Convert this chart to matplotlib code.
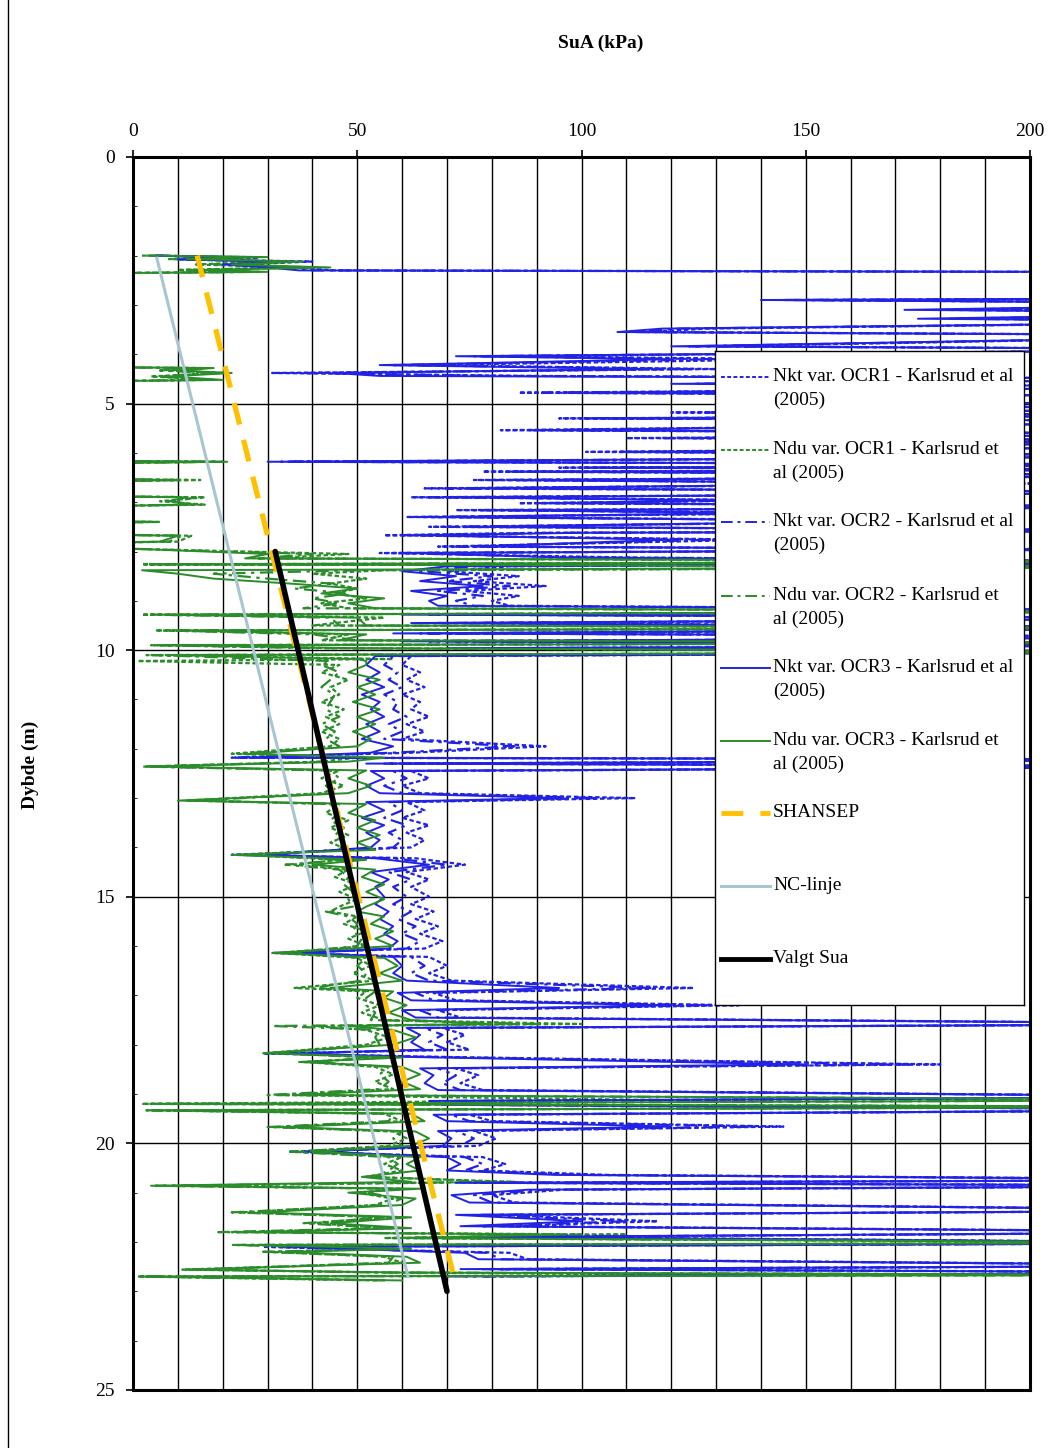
import matplotlib.pyplot as plt
import numpy as np
from matplotlib.lines import Line2D
from matplotlib.ticker import MultipleLocator

plt.rcParams['font.family'] = ['Liberation Serif', 'DejaVu Serif']

# Nkt-baserte profiler (blå), felles dybdeliste. 260 = utenfor skala (>200)
depth_nkt = [
    2.00, 2.04, 2.08, 2.12, 2.18, 2.24, 2.30, 2.34, 2.86, 2.90,
    2.97, 3.10, 3.16, 3.28, 3.34, 3.48, 3.55, 3.62, 3.84, 3.90,
    4.04, 4.10, 4.22, 4.30, 4.38, 4.44, 4.50, 4.60, 4.66, 4.78,
    4.86, 5.05, 5.12, 5.18, 5.24, 5.30, 5.36, 5.54, 5.62, 5.70, 5.75, 5.80, 5.86, 5.98,
    6.06, 6.18, 6.24, 6.30, 6.34, 6.38, 6.46, 6.55, 6.62, 6.72, 6.80, 6.90,
    6.96, 7.02, 7.10, 7.16, 7.22, 7.30, 7.38, 7.50, 7.58, 7.62, 7.67, 7.76, 7.90,
    7.96, 8.03, 8.12, 8.22, 8.30, 8.40, 8.50, 8.60, 8.70, 8.80,
    8.90, 9.00, 9.10, 9.20, 9.28, 9.35, 9.45, 9.55, 9.66, 9.73,
    9.82, 9.90, 9.96, 10.04, 10.12, 10.30, 10.45, 10.60, 10.75, 10.90,
    11.05, 11.20, 11.35, 11.50, 11.65, 11.80, 11.95, 12.08, 12.18, 12.22,
    12.30, 12.36, 12.45, 12.60, 12.75, 12.90, 13.00, 13.08, 13.25, 13.40,
    13.55, 13.70, 13.85, 14.00, 14.15, 14.22, 14.35, 14.50, 14.65, 14.80,
    15.00, 15.15, 15.30, 15.45, 15.60, 15.75, 15.90, 16.05, 16.14, 16.22,
    16.40, 16.55, 16.70, 16.85, 16.95, 17.10, 17.20, 17.30, 17.45, 17.58,
    17.66, 17.80, 17.95, 18.10, 18.18, 18.25, 18.40, 18.48, 18.62, 18.78,
    18.92, 19.06, 19.14, 19.22, 19.32, 19.42, 19.55, 19.66, 19.75, 19.90,
    20.05, 20.17, 20.28, 20.42, 20.55, 20.64, 20.74, 20.80, 20.86, 20.94,
    21.05, 21.20, 21.36, 21.45, 21.58, 21.68, 21.80, 21.90, 22.02, 22.10,
    22.22, 22.35, 22.48, 22.55, 22.62, 22.70,
]
nkt_ocr1 = [
    6, 28, 14, 40, 24, 36, 45, 260, 260, 150,
    260, 185, 260, 190, 260, 128, 115, 260, 130, 260,
    80, 150, 64, 130, 31, 90, 260, 130, 260, 86,
    260, 175, 260, 120, 260, 95, 260, 82, 260, 110, 260, 160, 260, 101,
    260, 36, 260, 95, 260, 78, 260, 76, 200, 65, 260, 62,
    150, 86, 260, 72, 160, 61, 190, 66, 260, 90, 56, 140, 68,
    230, 55, 110, 260, 84, 70, 86, 76, 92, 74,
    86, 80, 84, 260, 72, 260, 74, 260, 70, 260,
    72, 260, 80, 260, 62, 60, 64, 61, 65, 60,
    64, 62, 66, 61, 65, 60, 92, 62, 22, 260,
    60, 260, 62, 66, 60, 64, 112, 61, 65, 60,
    66, 61, 65, 62, 22, 63, 74, 61, 66, 62,
    66, 62, 67, 63, 68, 64, 69, 65, 31, 66,
    70, 66, 71, 125, 67, 72, 135, 68, 73, 260,
    69, 74, 70, 75, 29, 71, 180, 72, 77, 73,
    78, 260, 74, 79, 260, 75, 80, 145, 76, 81,
    77, 35, 78, 83, 78, 106, 260, 80, 260, 96,
    80, 85, 260, 81, 117, 82, 260, 84, 260, 29,
    84, 88, 260, 82, 260, 78,
]
nkt_ocr2 = [
    5, 24, 12, 36, 22, 33, 40, 260, 260, 145,
    260, 180, 260, 182, 260, 122, 112, 260, 124, 260,
    76, 130, 58, 125, 38, 82, 260, 125, 260, 92,
    260, 185, 260, 128, 260, 100, 260, 88, 260, 118, 260, 150, 260, 108,
    260, 33, 260, 100, 260, 84, 260, 80, 190, 70, 260, 66,
    140, 90, 260, 76, 150, 64, 180, 70, 260, 96, 60, 130, 72,
    220, 58, 100, 260, 76, 64, 80, 70, 84, 68,
    78, 72, 76, 260, 66, 260, 68, 260, 64, 260,
    66, 260, 82, 260, 58, 56, 59, 57, 60, 56,
    59, 58, 61, 57, 60, 56, 85, 58, 24, 260,
    56, 260, 58, 61, 56, 60, 104, 57, 60, 56,
    61, 57, 60, 58, 26, 58, 70, 57, 62, 58,
    61, 58, 62, 59, 63, 60, 64, 61, 35, 62,
    65, 62, 66, 116, 63, 67, 128, 64, 68, 260,
    65, 69, 66, 70, 32, 67, 173, 68, 72, 69,
    73, 260, 70, 74, 260, 71, 75, 139, 72, 76,
    73, 38, 74, 78, 74, 100, 260, 76, 260, 92,
    76, 80, 260, 77, 110, 78, 260, 79, 260, 32,
    79, 82, 260, 78, 260, 74,
]
nkt_ocr3 = [
    5, 22, 10, 33, 20, 30, 37, 260, 260, 140,
    260, 172, 260, 175, 260, 118, 108, 260, 120, 260,
    72, 120, 55, 115, 45, 55, 260, 120, 260, 98,
    260, 170, 260, 135, 260, 104, 260, 92, 260, 125, 260, 140, 260, 112,
    260, 30, 260, 106, 260, 88, 260, 84, 180, 74, 260, 70,
    130, 95, 260, 80, 140, 68, 170, 74, 260, 100, 64, 120, 76,
    210, 62, 95, 260, 70, 60, 72, 64, 78, 62,
    70, 66, 68, 260, 60, 260, 62, 260, 58, 260,
    60, 260, 70, 260, 54, 52, 55, 52, 56, 51,
    55, 53, 56, 52, 55, 51, 58, 53, 26, 260,
    52, 260, 53, 56, 52, 55, 96, 52, 56, 51,
    56, 52, 55, 53, 30, 54, 66, 53, 57, 54,
    56, 54, 57, 55, 58, 56, 59, 57, 38, 58,
    60, 58, 61, 95, 59, 62, 120, 60, 63, 260,
    61, 64, 62, 65, 36, 63, 150, 64, 67, 65,
    68, 260, 66, 69, 260, 67, 70, 120, 68, 71,
    69, 42, 70, 73, 70, 94, 260, 72, 260, 88,
    71, 75, 260, 72, 100, 73, 260, 74, 260, 36,
    74, 77, 260, 73, 260, 70,
]

# NDu-baserte profiler (grønne), felles dybdeliste. -40 = utenfor skala (<0)
depth_ndu = [
    2.00, 2.03, 2.07, 2.12, 2.18, 2.24, 2.29, 2.33, 2.38, 4.24,
    4.28, 4.33, 4.38, 4.45, 4.52, 4.58, 6.14, 6.18, 6.24, 6.50,
    6.55, 6.62, 6.85, 6.90, 6.98, 7.05, 7.12, 7.36, 7.40, 7.46,
    7.62, 7.68, 7.80, 7.86, 7.95, 8.05, 8.14, 8.20, 8.26, 8.31,
    8.38, 8.45, 8.55, 8.65, 8.75, 8.85, 8.95, 9.05, 9.15, 9.22,
    9.28, 9.34, 9.50, 9.55, 9.60, 9.68, 9.80, 9.85, 9.90, 9.96,
    10.04, 10.10, 10.18, 10.22, 10.30, 10.45, 10.60, 10.75, 10.90, 11.05,
    11.20, 11.35, 11.50, 11.65, 11.80, 11.95, 12.10, 12.18, 12.26, 12.36,
    12.44, 12.60, 12.75, 12.90, 13.05, 13.12, 13.30, 13.45, 13.60, 13.75,
    13.90, 14.05, 14.15, 14.25, 14.35, 14.45, 14.60, 14.75, 14.90, 15.05,
    15.20, 15.30, 15.40, 15.55, 15.70, 15.85, 16.00, 16.14, 16.24, 16.40,
    16.55, 16.70, 16.85, 16.92, 17.05, 17.20, 17.35, 17.50, 17.58, 17.62,
    17.70, 17.85, 18.00, 18.17, 18.26, 18.35, 18.45, 18.60, 18.75, 18.90,
    19.02, 19.12, 19.20, 19.26, 19.33, 19.40, 19.55, 19.67, 19.76, 19.90,
    20.05, 20.17, 20.28, 20.42, 20.55, 20.68, 20.78, 20.86, 20.92, 21.00,
    21.12, 21.25, 21.40, 21.50, 21.62, 21.72, 21.80, 21.85, 21.92, 22.02,
    22.06, 22.14, 22.20, 22.30, 22.42, 22.56, 22.62, 22.67, 22.70, 22.78,
]
ndu_ocr1 = [
    2, 26, 8, 30, 14, 36, 10, 26, -40, -40,
    16, 8, 20, 4, 18, -40, -40, 18, -40, -40,
    15, -40, -40, 16, 6, 16, -40, -40, 6, -40,
    -40, 13, 10, -40, 2, 48, 30, 260, 2, 260,
    56, 40, 52, 44, 50, 45, 52, 42, 48, 260,
    2, 56, 40, 260, 5, 48, 42, 260, 4, 46,
    260, 3, 58, 1, 46, 42, 48, 44, 46, 42,
    47, 43, 46, 42, 46, 44, 22, 50, 42, 3,
    46, 42, 47, 42, 12, 46, 43, 48, 44, 48,
    44, 48, 24, 46, 36, 48, 45, 50, 46, 50,
    46, 44, 50, 47, 52, 48, 52, 32, 50, 53,
    49, 54, 36, 52, 50, 55, 51, 56, 100, 40,
    52, 57, 52, 30, 56, 38, 54, 58, 54, 58,
    32, 117, 2, 260, 3, 56, 60, 32, 58, 61,
    57, 36, 60, 56, 60, 52, 85, 10, 60, 50,
    58, 54, 24, 56, 40, 58, 22, 110, 56, 260,
    24, 58, 30, 56, 60, 11, 58, 170, 1, 55,
]
ndu_ocr2 = [
    3, 24, 10, 34, 18, 40, 12, 28, -40, -40,
    14, 6, 17, 6, 16, -40, -40, 20, -40, -40,
    12, -40, -40, 14, 10, 12, -40, -40, 5, -40,
    -40, 11, 8, -40, 2, 40, 28, 260, 3, 260,
    50, 18, 30, 44, 36, 48, 40, 46, 38, 260,
    4, 44, 46, 260, 8, 40, 50, 260, 6, 40,
    260, 5, 30, 44, 42, 46, 44, 42, 45, 44,
    43, 46, 42, 45, 43, 46, 24, 46, 44, 2,
    44, 46, 43, 45, 14, 44, 46, 44, 47, 45,
    47, 46, 26, 48, 34, 46, 48, 47, 49, 48,
    49, 43, 48, 50, 49, 51, 50, 34, 52, 50,
    52, 51, 40, 54, 52, 52, 54, 53, 90, 31,
    55, 54, 55, 32, 53, 40, 57, 55, 57, 55,
    30, 260, 4, 260, 5, 58, 57, 30, 60, 58,
    60, 35, 57, 59, 57, 54, 80, 5, 58, 52,
    60, 56, 22, 58, 38, 56, 19, 100, 58, 260,
    22, 56, 29, 58, 57, 14, 56, 260, 2, 57,
]
ndu_ocr3 = [
    4, 30, 12, 38, 22, 44, 16, 30, -40, -40,
    18, 10, 22, 8, 20, -40, -40, 21, -40, -40,
    10, -40, -40, 12, 8, 14, -40, -40, 4, -40,
    -40, 10, 6, -40, 2, 30, 25, 260, 4, 260,
    2, 10, 18, 35, 50, 42, 56, 48, 54, 260,
    6, 50, 52, 260, 10, 52, 46, 260, 8, 50,
    260, 8, 50, 52, 52, 48, 55, 50, 54, 49,
    55, 50, 54, 49, 53, 50, 26, 56, 48, 4,
    52, 48, 53, 48, 10, 52, 48, 54, 50, 55,
    50, 54, 22, 52, 40, 54, 51, 56, 52, 56,
    52, 50, 56, 53, 58, 54, 58, 31, 56, 59,
    55, 60, 44, 58, 56, 61, 57, 62, 80, 48,
    58, 63, 58, 29, 60, 37, 60, 64, 60, 64,
    36, 260, 6, 260, 3, 62, 65, 34, 63, 66,
    62, 40, 64, 61, 64, 51, 62, 4, 64, 48,
    63, 60, 28, 62, 44, 62, 26, 95, 60, 260,
    28, 62, 34, 61, 64, 12, 60, 260, 2, 60,
]

# Rette linjer
shansep_depth = [2.0, 22.8]
shansep_su = [14.3, 71.8]
nc_depth = [2.05, 22.7]
nc_su = [5.3, 61.3]
valgt_depth = [8.0, 23.0]
valgt_su = [31.7, 70.0]

BLUE = '#2222e6'
GREEN = '#2a8c2a'
ORANGE = '#ffc000'
NCBLUE = '#a8c6cf'

dotted = (0, (2.0, 1.2))
dashdot = (0, (6, 2.5, 1.5, 2.5))

fig = plt.figure(figsize=(10.5, 14.48), dpi=100)
ax = fig.add_axes([0.1267, 0.0401, 0.8543, 0.8515])

ax.plot(nkt_ocr1, depth_nkt, color=BLUE, lw=1.6, ls=dotted, zorder=2)
ax.plot(ndu_ocr1, depth_ndu, color=GREEN, lw=1.6, ls=dotted, zorder=2)
ax.plot(nkt_ocr2, depth_nkt, color=BLUE, lw=1.6, ls=dashdot, zorder=2)
ax.plot(ndu_ocr2, depth_ndu, color=GREEN, lw=1.6, ls=dashdot, zorder=2)
ax.plot(nkt_ocr3, depth_nkt, color=BLUE, lw=1.4, zorder=2)
ax.plot(ndu_ocr3, depth_ndu, color=GREEN, lw=1.4, zorder=2)
ax.plot(nc_su, nc_depth, color=NCBLUE, lw=2.2, zorder=3)
ax.plot(shansep_su, shansep_depth, color=ORANGE, lw=3.8, ls=(0, (4.2, 3)), zorder=4)
ax.plot(valgt_su, valgt_depth, color='black', lw=4, solid_capstyle='round', zorder=5)

ax.set_xlim(0, 200)
ax.set_ylim(25, 0)
ax.xaxis.tick_top()
ax.set_xticks([0, 50, 100, 150, 200])
ax.xaxis.set_minor_locator(MultipleLocator(10))
ax.set_yticks([0, 5, 10, 15, 20, 25])
ax.yaxis.set_minor_locator(MultipleLocator(1))
ax.tick_params(axis='x', which='major', length=5, width=1.2, pad=7, labelsize=14)
ax.tick_params(axis='x', which='minor', length=0)
ax.tick_params(axis='y', which='major', length=5, width=1.2, pad=8, labelsize=14)
ax.tick_params(axis='y', which='minor', length=3, direction='in')
ax.grid(axis='x', which='both', color='black', lw=1.0)
ax.grid(axis='y', which='major', color='black', lw=1.0)
ax.set_axisbelow(True)
for s in ax.spines.values():
    s.set_linewidth(2.2)

fig.text(0.572, 0.970, 'SuA (kPa)', ha='center', va='center', fontsize=14, fontweight='bold')
fig.text(0.029, 0.4717, 'Dybde (m)', ha='center', va='center', rotation=90,
         fontsize=14, fontweight='bold')

# venstre sidekant fra skannet side
fig.add_artist(Line2D([8 / 1050, 8 / 1050], [0, 1], transform=fig.transFigure,
                      color='black', lw=1.0))

# forklaring tegnet som egen boks
lax = fig.add_axes([0.681, 0.306, 0.294, 0.4517])
lax.set_xlim(0, 1)
lax.set_ylim(0, 1)
lax.set_xticks([])
lax.set_yticks([])
lax.set_facecolor('white')
for s in lax.spines.values():
    s.set_linewidth(1.0)

entries = [
    (['Nkt var. OCR1 - Karlsrud et al', '(2005)'], dict(color=BLUE, lw=1.4, ls=dotted)),
    (['Ndu var. OCR1 - Karlsrud et', 'al (2005)'], dict(color=GREEN, lw=1.4, ls=dotted)),
    (['Nkt var. OCR2 - Karlsrud et al', '(2005)'], dict(color=BLUE, lw=1.4, ls=dashdot)),
    (['Ndu var. OCR2 - Karlsrud et', 'al (2005)'], dict(color=GREEN, lw=1.4, ls=dashdot)),
    (['Nkt var. OCR3 - Karlsrud et al', '(2005)'], dict(color=BLUE, lw=1.4)),
    (['Ndu var. OCR3 - Karlsrud et', 'al (2005)'], dict(color=GREEN, lw=1.4)),
    (['SHANSEP'], dict(color=ORANGE, lw=3.5, ls=(0, (4.5, 3.5)))),
    (['NC-linje'], dict(color=NCBLUE, lw=2.2)),
    (['Valgt Sua'], dict(color='black', lw=3.5)),
]
rows_px = [377, 450, 522, 596, 668, 741, 813, 886, 959]
for (lines, style), py in zip(entries, rows_px):
    yy = 1 - (py - 351) / 654
    lax.plot([0.019, 0.178], [yy, yy], **style)
    for i, t in enumerate(lines):
        lax.text(0.188, yy - i * 23 / 654, t, ha='left', va='center', fontsize=14)

fig.savefig('out.png', dpi=100)
